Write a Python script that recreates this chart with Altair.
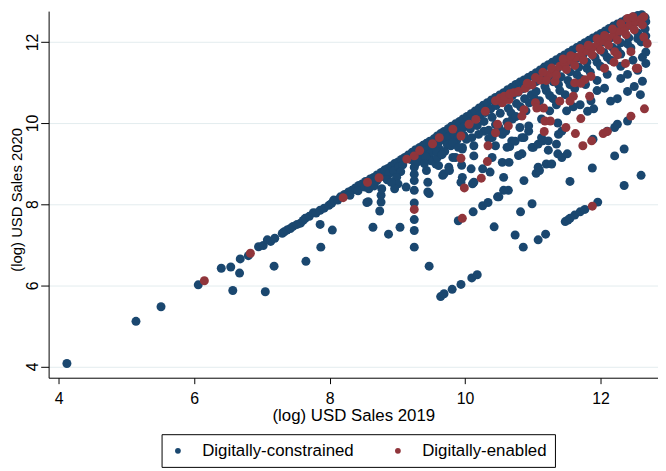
import altair as alt
import pandas as pd

# ---- data: [log sales 2019, log sales 2020] ----
blue_tail = [[4.12,4.07],[5.14,5.11],[5.51,5.47],[6.06,6.01],[6.40,6.42],[6.54,6.45],[6.68,6.65],[6.67,6.30],
    [6.57,5.87],[6.80,6.73],[6.95,6.95],[7.02,6.98],[7.08,7.12],[7.13,7.08],[7.19,7.16],[7.05,5.84],[7.18,6.47],
    [7.65,6.59],[7.87,6.94],[7.30,7.28],[7.33,7.32],[7.37,7.36],[7.42,7.40],[7.46,7.45],[7.52,7.50],[7.57,7.53],
    [7.61,7.60],[7.64,7.65],[7.70,7.70],[7.76,7.79],[7.80,7.78],[7.86,7.85],[7.92,7.90],[7.99,7.97],[8.03,8.02],
    [8.06,8.10],[8.12,8.10],[7.86,7.50],[8.04,7.36]]

blue_8_9 = [[8.16,8.18],[8.22,8.24],[8.28,8.30],[8.33,8.34],[8.38,8.40],[8.43,8.46],[8.48,8.50],[8.53,8.56],
    [8.60,8.62],[8.65,8.66],[8.70,8.72],[8.76,8.78],[8.81,8.84],[8.86,8.88],[8.91,8.94],[8.96,9.00],[9.01,9.04],
    [9.06,9.10],[9.11,9.15],[9.16,9.21],
    [8.30,8.22],[8.42,8.33],[8.52,8.42],[8.62,8.52],[8.70,8.58],[8.80,8.68],[8.88,8.75],[8.95,8.82],[9.02,8.92],
    [9.08,8.97],[8.58,8.38],[8.66,8.45],[8.85,8.60],[9.05,8.80],
    [8.55,8.04],[8.57,8.06],[8.76,8.05],[8.74,7.83],[8.76,8.22],[8.77,8.38],[8.64,7.43],[8.87,7.26],[9.04,7.43],
    [8.99,8.66],[9.01,8.50],[8.96,8.38],[9.13,8.42],[8.91,8.54]]

blue_9_10 = [[9.22,9.28],[9.27,9.34],[9.33,9.40],[9.38,9.45],[9.43,9.50],[9.48,9.55],[9.54,9.61],[9.59,9.68],
    [9.64,9.74],[9.69,9.79],[9.75,9.86],[9.80,9.92],[9.86,9.98],[9.92,10.04],[9.97,10.10],
    [9.20,9.10],[9.28,9.18],[9.36,9.26],[9.44,9.33],[9.52,9.42],[9.60,9.50],[9.68,9.58],[9.76,9.66],[9.84,9.73],
    [9.92,9.82],[9.98,9.90],[9.35,9.12],[9.48,9.24],[9.62,9.36],[9.74,9.46],[9.88,9.58],[9.98,9.70],[9.55,9.05],
    [9.25,8.91],[9.27,9.00],[9.25,8.74],[9.25,8.58],[9.25,8.34],[9.25,8.03],[9.25,7.62],[9.25,7.35],[9.25,6.94],
    [9.47,6.47],[9.43,8.83],[9.45,8.54],[9.47,8.26],[9.45,8.30],[9.50,9.07],[9.57,8.99],[9.61,8.95],[9.67,8.71],
    [9.69,8.75],[9.76,8.91],[9.77,8.83],[9.82,9.15],[9.79,9.44],[9.59,9.15],[9.86,9.15],[9.96,9.36],[9.96,8.66],
    [9.94,8.54],[9.95,8.96],[9.96,9.40],[9.64,5.72],[9.69,5.79],[9.81,5.90],[9.94,6.02],[10.10,6.18],[10.18,6.26],
    [9.90,7.59],[10.12,7.81],[10.26,7.96],[10.34,8.04],[10.48,8.18],[10.64,8.34],[10.43,7.44],[10.74,7.24],
    [10.86,6.94],[11.08,7.12],[11.19,7.26],[10.82,7.81],[10.99,8.01]]

blue_fill = [[9.30,9.05],[9.42,9.17],[9.58,9.30],[9.70,9.30],[9.82,9.52],[9.90,9.40],[9.66,9.22],[9.40,9.00],
    [10.02,9.60],[10.10,9.64],[10.28,9.80],[10.45,9.96],[10.70,10.10],[10.82,10.40],[10.68,10.25],[10.95,10.50],
    [11.02,10.62],[11.20,10.80],[11.38,10.95],[11.52,11.05],[11.65,11.20],[11.80,11.35],[11.95,11.50],[12.10,11.62],
    [12.25,11.80],[12.40,11.95],[12.55,12.08],[11.30,10.60],[11.48,10.70],[11.62,10.85],[11.78,10.95],[11.95,11.05],
    [12.10,11.20],[12.30,11.40],[12.48,11.55],[12.62,11.62]]

blue_10_11 = [[10.03,10.16],[10.09,10.23],[10.15,10.30],[10.21,10.37],[10.27,10.44],[10.33,10.50],[10.39,10.57],
    [10.45,10.63],[10.51,10.69],[10.57,10.75],[10.63,10.82],[10.69,10.88],[10.75,10.95],[10.81,11.01],[10.87,11.06],
    [10.93,11.12],[10.99,11.18],
    [10.06,10.02],[10.14,10.10],[10.22,10.19],[10.30,10.26],[10.38,10.35],[10.46,10.43],[10.54,10.51],[10.62,10.60],
    [10.70,10.68],[10.78,10.76],[10.86,10.85],[10.94,10.93],
    [10.08,9.86],[10.18,9.94],[10.28,10.04],[10.40,10.14],[10.52,10.24],[10.64,10.36],[10.76,10.48],[10.88,10.60],
    [10.98,10.70],[10.20,9.72],[10.35,9.82],[10.50,9.90],[10.62,10.02],[10.75,10.16],[10.90,10.30],[10.60,9.80],
    [10.09,8.87],[10.11,8.50],[10.13,9.19],[10.13,9.44],[10.26,8.87],[10.13,8.54],[10.37,8.79],[10.40,9.15],
    [10.40,9.64],[10.35,9.62],[10.55,9.03],[10.57,8.66],[10.57,8.34],[10.65,9.03],[10.50,8.18],[10.87,8.58],
    [11.05,8.76],[11.10,8.83],[10.84,9.24],[10.79,9.20],[10.62,9.40],[10.66,9.42],[10.45,9.44],[10.87,9.64],
    [10.94,9.80],[10.69,9.56],[10.84,9.64],[10.99,9.40],[10.55,9.72],[10.81,9.89],[10.74,9.55],[10.94,9.93],
    [11.01,9.40]]

blue_11_13 = [[11.05,11.24],[11.11,11.31],[11.17,11.38],[11.23,11.44],[11.29,11.50],[11.35,11.56],[11.41,11.62],
    [11.47,11.68],[11.53,11.74],[11.59,11.80],[11.65,11.86],[11.71,11.92],[11.77,11.98],[11.83,12.04],[11.89,12.10],
    [11.95,12.15],[12.01,12.21],[12.07,12.27],[12.13,12.33],[12.19,12.39],[12.25,12.44],[12.31,12.49],[12.37,12.54],
    [12.43,12.58],[12.49,12.62],[12.55,12.65],[12.61,12.67],[12.66,12.60],[12.67,12.50],
    [11.05,11.02],[11.15,11.10],[11.25,11.20],[11.35,11.30],[11.45,11.40],[11.55,11.50],[11.65,11.60],[11.75,11.70],
    [11.85,11.80],[11.95,11.90],[12.05,12.00],[12.15,12.10],[12.25,12.20],[12.35,12.30],[12.45,12.40],[12.55,12.50],
    [12.65,12.58],
    [11.05,10.78],[11.18,10.90],[11.30,11.02],[11.42,11.14],[11.55,11.26],[11.68,11.38],[11.80,11.50],[11.92,11.62],
    [12.05,11.74],[12.18,11.86],[12.30,11.98],[12.42,12.10],[12.55,12.22],[12.66,12.32],
    [11.10,10.55],[11.25,10.68],[11.40,10.80],[11.55,10.95],[11.70,11.10],[11.85,11.25],[12.00,11.40],[12.15,11.55],
    [12.30,11.70],[12.45,11.85],[12.60,12.00],[12.67,12.15],
    [11.08,8.91],[11.20,8.99],[11.28,8.99],[11.37,9.24],[11.43,9.15],[11.51,9.24],[11.55,8.56],[11.88,8.89],
    [12.21,9.19],[12.35,9.36],[12.35,8.46],[12.60,8.71],[11.48,7.57],[11.52,7.61],[11.55,7.65],[11.62,7.73],
    [11.70,7.81],[11.77,7.87],[11.96,8.05],[11.35,9.48],[11.23,9.33],[11.08,9.48],[11.15,9.56],[11.43,9.80],
    [11.13,9.64],[11.23,9.56],[11.38,9.72],[11.13,10.10],[11.37,10.00],[11.89,9.60],[12.21,9.89],[12.25,9.97],
    [12.10,9.80],[12.40,10.05],[11.81,10.29],[11.90,10.35],[12.15,10.54],[12.25,10.60],[12.40,10.78],[12.50,10.90],
    [12.62,11.03],[12.59,10.70],[12.67,11.47],[12.55,11.30],[12.40,11.20],[12.30,11.10],[12.06,10.86],[11.95,10.80],
    [11.86,10.55],[11.60,10.40],[11.50,10.30],[11.70,10.45],[12.67,11.75],[12.67,12.00],[11.25,10.30],[11.35,10.45]]

red_low = [[6.15,6.11],[6.83,6.79],[8.20,8.16],[8.56,8.54],[8.73,8.65],[9.25,7.87],[9.96,7.65],[9.99,8.40],
    [10.24,8.64],[10.33,9.05],[10.34,9.44],[9.94,9.13],[11.88,7.95],[11.74,9.44],[11.87,9.56],[11.63,9.74],
    [11.49,9.89],[12.04,9.74],[12.10,9.79],[11.17,9.79],[11.18,10.05],[11.26,10.05],[10.64,9.93],[12.45,10.17],
    [12.65,10.35],[11.71,10.11]]

red_mid = [[9.14,9.11],[9.25,9.19],[9.33,9.32],[9.52,9.49],[9.62,9.64],[9.82,9.85],[9.94,9.68],[10.06,9.97],
    [10.16,10.09],[10.30,10.29],[10.48,9.97],[10.45,9.76],[10.60,10.58],[10.65,10.58],[10.55,10.50],[10.87,10.33],
    [10.84,10.17],[11.04,10.50],[11.16,10.37],[11.40,10.54],[11.55,10.54],[11.06,10.37],[11.84,10.66],[11.60,10.66],
    [11.33,11.03]]

red_band = [[10.45,10.55],[10.52,10.62],[10.58,10.66],[10.66,10.72],[10.72,10.75],
    [10.79,10.78],[10.89,10.86],[10.99,10.94],[11.11,11.06],[11.23,11.19],[11.33,11.27],[11.40,11.40],
    [11.48,11.45],[11.56,11.55],[11.64,11.62],[11.72,11.70],[11.80,11.78],[11.88,11.86],[11.96,11.95],[12.04,12.02],
    [12.12,12.10],[12.20,12.18],[12.28,12.26],[12.36,12.34],[12.44,12.42],[12.52,12.50],[12.60,12.56],[12.64,12.62],
    [12.40,12.58],[12.48,12.62],[12.30,12.45],[12.18,12.32],[11.95,12.08],[11.70,11.84],[11.45,11.58],[11.15,11.25],
    [10.92,10.98],[11.04,11.12],[11.28,11.36],[11.56,11.66],[11.82,11.92],[12.06,12.16],
    [11.20,11.05],[11.35,11.18],[11.50,11.32],[11.62,11.42],[11.75,11.55],[11.88,11.68],[12.00,11.80],[12.12,11.92],
    [12.25,12.05],[12.38,12.18],[12.50,12.30],[12.62,12.42],[11.62,10.99],[11.77,11.07],[12.06,11.35],[12.21,11.76],
    [12.45,11.76],[12.55,11.35],[12.37,11.47],[12.25,11.68],[12.64,12.12],[12.69,11.96],[11.86,11.15],[11.71,10.98],
    [12.20,11.50],[12.53,11.35]]

groups = ["Digitally-constrained", "Digitally-enabled"]
colors = ["#1a476f", "#90353b"]
ticks = [4, 6, 8, 10, 12]

rows = []
for part in (blue_tail, blue_8_9, blue_9_10, blue_fill, blue_10_11, blue_11_13):
    rows += [{"x": p[0], "y": p[1], "g": groups[0]} for p in part]
for part in (red_low, red_mid, red_band):
    rows += [{"x": p[0], "y": p[1], "g": groups[1]} for p in part]
df = pd.DataFrame(rows)

FONT = "Liberation Sans"

chart = alt.Chart(df).mark_circle(size=82, opacity=1).encode(
    x=alt.X("x:Q",
            scale=alt.Scale(domain=[3.85, 12.85], nice=False, zero=False),
            axis=alt.Axis(values=ticks, title="(log) USD Sales 2019", grid=False,
                          tickSize=6, labelPadding=20, labelBaseline="alphabetic",
                          titleY=43, titleBaseline="alphabetic")),
    y=alt.Y("y:Q",
            scale=alt.Scale(domain=[3.72, 12.76], nice=False, zero=False),
            axis=alt.Axis(values=ticks, title="(log) USD Sales 2020", grid=True,
                          gridColor="#e3ecef", gridWidth=1,
                          tickSize=8, labelAngle=270, labelAlign="center",
                          labelBaseline="alphabetic", labelPadding=3,
                          titleAngle=270, titleX=-27, titleY=190,
                          titleAlign="center", titleBaseline="alphabetic")),
    color=alt.Color("g:N", scale=alt.Scale(domain=groups, range=colors),
                    legend=alt.Legend(title=None, orient="none", legendX=114, legendY=427,
                                      direction="horizontal", strokeColor="black",
                                      fillColor="white", padding=8, columnPadding=35,
                                      labelFontSize=17, labelFont=FONT, labelColor="black",
                                      symbolType="circle", symbolSize=34, symbolStrokeWidth=0,
                                      labelOffset=16, cornerRadius=0)),
).properties(
    width=615, height=370,
    autosize=alt.AutoSizeParams(type="none"),
    padding={"left": 41, "top": 1, "right": 0, "bottom": 90},
    background="white",
).configure_view(stroke=None).configure_axis(
    domainColor="black", tickColor="black", labelColor="black", titleColor="black",
    labelFont=FONT, titleFont=FONT, labelFontSize=16, titleFontSize=17,
    titleFontWeight="normal", domainWidth=1, tickWidth=1,
).configure_axisY(titleFontSize=15)

chart.save("out.html", embed_options={"renderer": "svg", "actions": False})
